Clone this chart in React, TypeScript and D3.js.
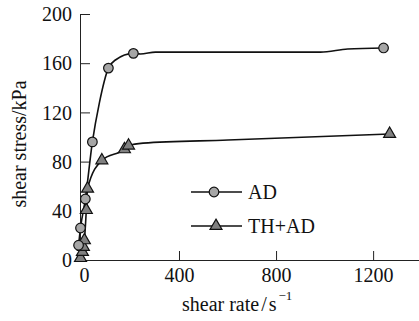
import * as d3 from 'd3';

// AD series (circles), [shear rate s^-1, shear stress kPa]
const adMarks: [number, number][] = [
  [-16, 12], [-8, 26], [12, 49.6], [41, 96], [107, 156], [210, 168], [1241, 172.4],
];
// extra nodes the AD curve passes through (no marker)
const adNodes: [number, number][] = [
  [70, 128], [136, 162.6], [239, 167.5], [301, 169], [981, 169], [1093, 171.5],
];

// TH+AD series (triangles)
const thMarks: [number, number][] = [
  [-8, 1.6], [0, 6.5], [4, 10.6], [8, 16], [16, 40.6], [21, 58],
  [80, 81], [173, 90], [190, 93], [1266, 102.5],
];
const thNodes: [number, number][] = [
  [250, 95], [600, 97.5],
];

const xTicks = [0, 400, 800, 1200];
const yTicks = [0, 40, 80, 120, 160, 200];

const W = 419;
const H = 321;
const FONT = '"Liberation Serif", "Times New Roman", serif';
const FS = 20;

const x = d3.scaleLinear().domain([-8, 1385]).range([80.5, 418.5]);
const y = d3.scaleLinear().domain([0, 200]).range([260, 14]);

const byX = (a: [number, number], b: [number, number]) => a[0] - b[0];

const line = d3
  .line<[number, number]>()
  .x(d => x(d[0]))
  .y(d => y(d[1]))
  .curve(d3.curveMonotoneX);

const tri = d3.symbol().type(d3.symbolTriangle).size(62)();

export default function App() {
  const adLine = [...adMarks, ...adNodes].sort(byX);
  const thLine = [...thMarks, ...thNodes].sort(byX);

  return (
    <svg
      width={W}
      height={H}
      style={{ position: 'absolute', left: 0, top: 0, background: '#fff' }}
      fontFamily={FONT}
    >
      {/* axes */}
      <line x1={80.5} x2={80.5} y1={14} y2={260} stroke="#222" strokeWidth={1} />
      <line x1={80.5} x2={419} y1={260.5} y2={260.5} stroke="#222" strokeWidth={1} />

      {yTicks.map(t => (
        <g key={'y' + t}>
          <line x1={80.5} x2={90} y1={y(t) + 0.5} y2={y(t) + 0.5} stroke="#222" strokeWidth={1} />
          <text x={72} y={y(t)} dy="0.36em" textAnchor="end" fontSize={FS} fill="#111">
            {t}
          </text>
        </g>
      ))}
      {xTicks.map(t => (
        <g key={'x' + t}>
          {t > 0 && (
            <line x1={x(t)} x2={x(t)} y1={251} y2={260} stroke="#222" strokeWidth={1} />
          )}
          <text x={x(t) + (t === 0 ? 2 : 0)} y={282} textAnchor="middle" fontSize={FS} fill="#111">
            {t}
          </text>
        </g>
      ))}

      {/* axis titles */}
      <text
        transform="translate(26,144) rotate(-90)"
        textAnchor="middle"
        fontSize={FS}
        fill="#111"
      >
        shear stress/kPa
      </text>
      <text x={182} y={311} fontSize={FS} fill="#111">
        shear rate
        <tspan dx={2}>/</tspan>
        <tspan dx={2}>s</tspan>
        <tspan dx={2} dy={-11} fontSize={13}>−1</tspan>
      </text>

      {/* curves */}
      <path d={line(adLine) || ''} fill="none" stroke="#111" strokeWidth={1.6} />
      <path d={line(thLine) || ''} fill="none" stroke="#111" strokeWidth={1.6} />

      {thMarks.map((d, i) => (
        <path
          key={'t' + i}
          d={tri || ''}
          transform={`translate(${x(d[0])},${y(d[1])})`}
          fill="#808080"
          stroke="#111"
          strokeWidth={1.2}
        />
      ))}
      {adMarks.map((d, i) => (
        <circle
          key={'c' + i}
          cx={x(d[0])}
          cy={y(d[1])}
          r={4.8}
          fill="#a6a6a6"
          stroke="#111"
          strokeWidth={1.2}
        />
      ))}

      {/* legend */}
      <line x1={191} x2={242} y1={192} y2={192} stroke="#111" strokeWidth={1.6} />
      <circle cx={214} cy={192} r={4.8} fill="#a6a6a6" stroke="#111" strokeWidth={1.2} />
      <text x={248} y={199} fontSize={FS} fill="#111">AD</text>

      <line x1={191} x2={242} y1={226} y2={226} stroke="#111" strokeWidth={1.6} />
      <path d={tri || ''} transform="translate(216,226)" fill="#808080" stroke="#111" strokeWidth={1.2} />
      <text x={248} y={233} fontSize={FS} fill="#111">TH+AD</text>
    </svg>
  );
}
